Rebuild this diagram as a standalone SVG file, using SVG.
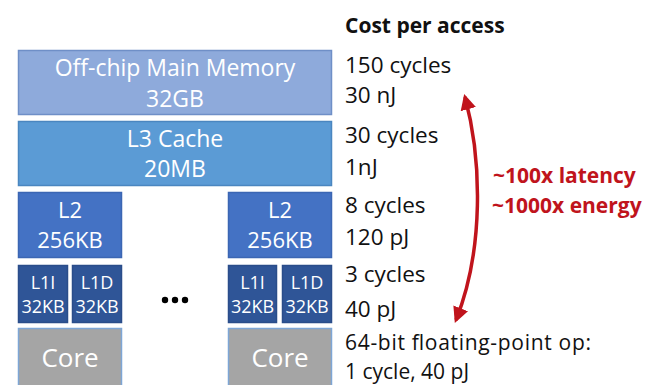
<svg xmlns="http://www.w3.org/2000/svg" width="647" height="385" viewBox="0 0 647 385">
<defs>
<style>
text{font-family:"Open Sans","Noto Sans",sans-serif}
.w{fill:#fff;text-anchor:middle}
.k{fill:#111;font-size:22.5px}
.r{fill:#c0141c;font-size:21px;font-weight:bold}
.mem{fill:#8eaadb;stroke:#6f8fc7;stroke-width:1.5}
.l3{fill:#5b9bd5;stroke:#4a86c0;stroke-width:1.5}
.l2{fill:#4472c4;stroke:#3b66b3;stroke-width:1.5}
.l1{fill:#2f5597;stroke:#2a4d8a;stroke-width:1.5}
.core{fill:#a5a5a5;stroke:#7ea6d6;stroke-width:1.5}
</style>
<marker id="ah" viewBox="0 0 10 10" refX="8" refY="5" markerWidth="4.5" markerHeight="4.5" orient="auto-start-reverse" markerUnits="strokeWidth">
<path d="M0,0 L10,5 L0,10 z" fill="#c0141c"/>
</marker>
</defs>
<g id="main-memory">
<rect class="mem" x="18.5" y="50.5" width="313" height="64"/>
<text class="w" x="175" y="76" font-size="23">Off-chip Main Memory</text>
<text class="w" x="175" y="107" font-size="23">32GB</text>
</g>
<g id="l3">
<rect class="l3" x="18.5" y="121.5" width="313" height="64"/>
<text class="w" x="175" y="147" font-size="23">L3 Cache</text>
<text class="w" x="175" y="177" font-size="23">20MB</text>
</g>
<g id="l2-left">
<rect class="l2" x="18.5" y="192.5" width="103" height="65"/>
<text class="w" x="70" y="218" font-size="22">L2</text>
<text class="w" x="70" y="248" font-size="22">256KB</text>
</g>
<g id="l2-right">
<rect class="l2" x="228.5" y="192.5" width="103" height="65"/>
<text class="w" x="280" y="218" font-size="22">L2</text>
<text class="w" x="280" y="248" font-size="22">256KB</text>
</g>
<g id="l1i-left">
<rect class="l1" x="18.5" y="265.5" width="49" height="57"/>
<text class="w" x="43" y="289" font-size="18">L1I</text>
<text class="w" x="43" y="313" font-size="18">32KB</text>
</g>
<g id="l1d-left">
<rect class="l1" x="72.5" y="265.5" width="49" height="57"/>
<text class="w" x="97" y="289" font-size="18">L1D</text>
<text class="w" x="97" y="313" font-size="18">32KB</text>
</g>
<g id="l1i-right">
<rect class="l1" x="228.5" y="265.5" width="48" height="57"/>
<text class="w" x="252.5" y="289" font-size="18">L1I</text>
<text class="w" x="252.5" y="313" font-size="18">32KB</text>
</g>
<g id="l1d-right">
<rect class="l1" x="282.5" y="265.5" width="49" height="57"/>
<text class="w" x="307" y="289" font-size="18">L1D</text>
<text class="w" x="307" y="313" font-size="18">32KB</text>
</g>
<g id="core-left">
<rect class="core" x="18.5" y="328.5" width="103" height="70"/>
<text class="w" x="70" y="367" font-size="26">Core</text>
</g>
<g id="core-right">
<rect class="core" x="228.5" y="328.5" width="103" height="70"/>
<text class="w" x="280" y="367" font-size="26">Core</text>
</g>
<g id="ellipsis" fill="#000">
<circle cx="165" cy="300" r="3.2"/>
<circle cx="175" cy="300" r="3.2"/>
<circle cx="185" cy="300" r="3.2"/>
</g>
<g id="costs">
<text x="345" y="33" font-size="21" font-weight="bold" fill="#111">Cost per access</text>
<text class="k" x="345" y="73">150 cycles</text>
<text class="k" x="345" y="103">30 nJ</text>
<text class="k" x="345" y="143">30 cycles</text>
<text class="k" x="345" y="175">1nJ</text>
<text class="k" x="345" y="213">8 cycles</text>
<text class="k" x="345" y="245">120 pJ</text>
<text class="k" x="345" y="282">3 cycles</text>
<text class="k" x="345" y="317">40 pJ</text>
<text x="345" y="350" font-size="21" fill="#111" textLength="246" lengthAdjust="spacing">64-bit floating-point op:</text>
<text x="345" y="379" font-size="21" fill="#111">1 cycle, 40 pJ</text>
</g>
<g id="connectors">
<path d="M465,97 C482,160 484,250 456,320" fill="none" stroke="#c0141c" stroke-width="3.5" marker-start="url(#ah)" marker-end="url(#ah)"/>
</g>
<g id="ratio-labels">
<text class="r" x="493" y="183">~100x latency</text>
<text class="r" x="492" y="213">~1000x energy</text>
</g>
</svg>
